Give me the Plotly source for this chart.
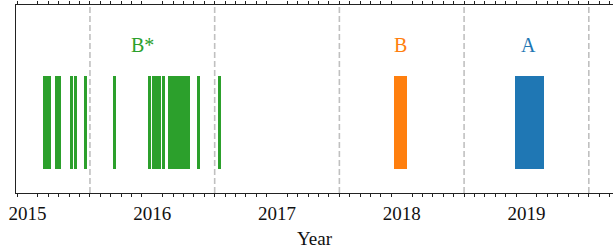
import plotly.graph_objects as go

# Observation periods (decimal years)
green_start = [2015.123, 2015.219, 2015.340, 2015.372, 2015.452, 2015.684,
               2015.965, 2015.997, 2016.077, 2016.125, 2016.358, 2016.526]
green_end = [2015.187, 2015.267, 2015.361, 2015.396, 2015.476, 2015.708,
             2015.989, 2016.069, 2016.101, 2016.302, 2016.382, 2016.551]
orange_start = [2017.938]
orange_end = [2018.042]
blue_start = [2018.908]
blue_end = [2019.141]

labels = ["B*", "B", "A"]
label_x = [2015.925, 2017.99, 2019.02]
label_colors = ["#2ca02c", "#ff7f0e", "#1f77b4"]

year_ticks = [2015, 2016, 2017, 2018, 2019]
divider_years = [2015.5, 2016.5, 2017.5, 2018.5, 2019.5]
x_range = [2014.907, 2019.694]

FONT = "Liberation Serif, DejaVu Serif, serif"

fig = go.Figure()


def add_bars(starts, ends, color):
    centers = [(s + e) / 2 for s, e in zip(starts, ends)]
    widths = [e - s for s, e in zip(starts, ends)]
    fig.add_trace(go.Bar(
        x=centers, y=[1] * len(centers), base=[0] * len(centers), width=widths,
        marker=dict(color=color, line=dict(width=0)), showlegend=False,
        hoverinfo="skip"))


add_bars(green_start, green_end, "#2ca02c")
add_bars(orange_start, orange_end, "#ff7f0e")
add_bars(blue_start, blue_end, "#1f77b4")

# invisible trace to anchor the top axis
fig.add_trace(go.Scatter(x=x_range, y=[0, 0], xaxis="x2", yaxis="y", mode="markers",
                         marker=dict(opacity=0), showlegend=False, hoverinfo="skip"))

for xv in divider_years:
    fig.add_shape(type="line", xref="x", yref="paper", x0=xv, x1=xv, y0=0, y1=1,
                  line=dict(color="#c0c0c0", width=1.6, dash="6px,3px"), layer="below")

for t, xv, c in zip(labels, label_x, label_colors):
    fig.add_annotation(x=xv, y=1.333, xref="x", yref="y", text=t, showarrow=False,
                       font=dict(family=FONT, size=20, color=c))

minor_vals = [y + m / 12 for y in range(2014, 2020) for m in range(1, 12)]

fig.update_layout(
    width=613, height=249,
    margin=dict(l=16, r=0, t=5, b=56, autoexpand=False),
    plot_bgcolor="white", paper_bgcolor="white",
    bargap=0,
    font=dict(family=FONT, size=19, color="#111"),
    xaxis=dict(
        range=x_range, automargin=False,
        tickvals=year_ticks, ticktext=[str(v) for v in year_ticks],
        ticks="outside", ticklen=0, ticklabelstandoff=3,
        tickfont=dict(family=FONT, size=19, color="#111"),
        showgrid=False, zeroline=False,
        showline=True, linecolor="#222", linewidth=1.3,
        minor=dict(tickvals=minor_vals, ticks="outside", ticklen=3, tickwidth=1,
                   tickcolor="#222", showgrid=False),
        title=dict(text="Year", font=dict(family=FONT, size=19, color="#111"), standoff=9),
    ),
    xaxis2=dict(
        range=x_range, overlaying="x", side="top", anchor="y", automargin=False,
        tickvals=year_ticks, showticklabels=False, ticks="outside", ticklen=0,
        showgrid=False, zeroline=False,
        showline=True, linecolor="#222", linewidth=1.3,
        minor=dict(tickvals=minor_vals, ticks="outside", ticklen=3, tickwidth=1,
                   tickcolor="#222", showgrid=False),
    ),
    yaxis=dict(
        range=[-0.254, 1.762], showticklabels=False, ticks="", showgrid=False,
        zeroline=False, showline=True, linecolor="#222", linewidth=1.3, automargin=False,
    ),
)

fig.write_html(
    "out.html",
    config=dict(displayModeBar=False),
    post_script="document.body.style.margin='0';document.body.style.padding='0';"
                "document.body.style.overflow='hidden';",
)
